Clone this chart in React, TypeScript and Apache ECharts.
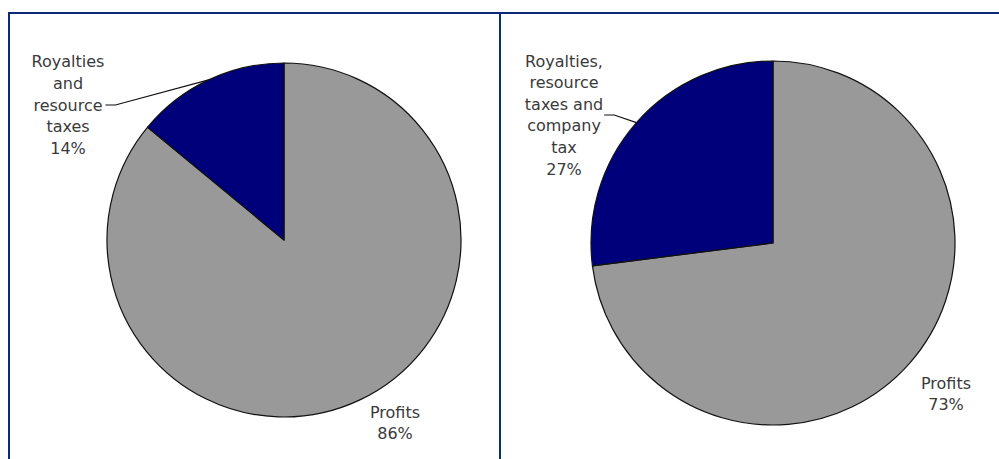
import React, { useEffect, useRef } from "react";
import * as echarts from "echarts";

// ---- data ----
const leftCategories = ["Profits", "Royalties\nand\nresource\ntaxes"];
const leftValues = [86, 14];
const rightCategories = ["Profits", "Royalties,\nresource\ntaxes and\ncompany\ntax"];
const rightValues = [73, 27];

// ---- styles / layout ----
const sliceColors = ["#999999", "#00007a"];
const frameColor = "#0b2b78";
const textColor = "#3a3a3a";
// label anchor (centre x, middle y) per data index
const leftLabelAnchors = [
  [395, 423],
  [68, 105],
];
const rightLabelAnchors = [
  [946, 394],
  [564, 115],
];

function makeLabelLayout(anchors: number[][]) {
  return (params: any) => {
    const [x, y] = anchors[params.dataIndex];
    const res: any = { x, y, align: "center", verticalAlign: "middle" };
    if (params.dataIndex === 1 && params.labelLinePoints) {
      const right = x + params.labelRect.width / 2 + 1;
      res.labelLinePoints = [params.labelLinePoints[0], [right + 10, y], [right, y]];
    }
    return res;
  };
}

function buildSeries(
  categories: string[],
  values: number[],
  center: number[],
  radius: number,
  anchors: number[][]
) {
  return {
    type: "pie",
    center,
    radius,
    startAngle: 90,
    clockwise: true,
    avoidLabelOverlap: false,
    silent: true,
    itemStyle: { borderColor: "#111", borderWidth: 1.2 },
    label: {
      show: true,
      position: "outside",
      formatter: "{b}\n{d}%",
      fontFamily: "DejaVu Sans, Verdana, sans-serif",
      fontSize: 16,
      lineHeight: 21.6,
      color: textColor,
      align: "center",
    },
    labelLine: {
      show: true,
      length: 10,
      length2: 10,
      smooth: false,
      lineStyle: { color: "#111", width: 1.2 },
    },
    labelLayout: makeLabelLayout(anchors),
    data: categories.map((name, i) => ({
      name,
      value: values[i],
      itemStyle: { color: sliceColors[i] },
      labelLine: { show: i === 1 },
    })),
  };
}

export default function App() {
  const ref = useRef<HTMLDivElement>(null);
  useEffect(() => {
    document.body.style.margin = "0";
    const chart = echarts.init(ref.current!, null, { renderer: "svg" });
    chart.setOption({
      animation: false,
      backgroundColor: "#ffffff",
      graphic: [
        { type: "rect", shape: { x: 8, y: 12, width: 991, height: 2 }, style: { fill: frameColor } },
        { type: "rect", shape: { x: 8, y: 12, width: 2, height: 447 }, style: { fill: frameColor } },
        { type: "rect", shape: { x: 499, y: 12, width: 2, height: 447 }, style: { fill: frameColor } },
      ],
      series: [
        buildSeries(leftCategories, leftValues, [284, 240], 177, leftLabelAnchors),
        buildSeries(rightCategories, rightValues, [773, 243], 182, rightLabelAnchors),
      ],
    });
    return () => chart.dispose();
  }, []);
  return (
    <div
      ref={ref}
      style={{ position: "fixed", left: 0, top: 0, width: 999, height: 459, background: "#fff" }}
    />
  );
}
